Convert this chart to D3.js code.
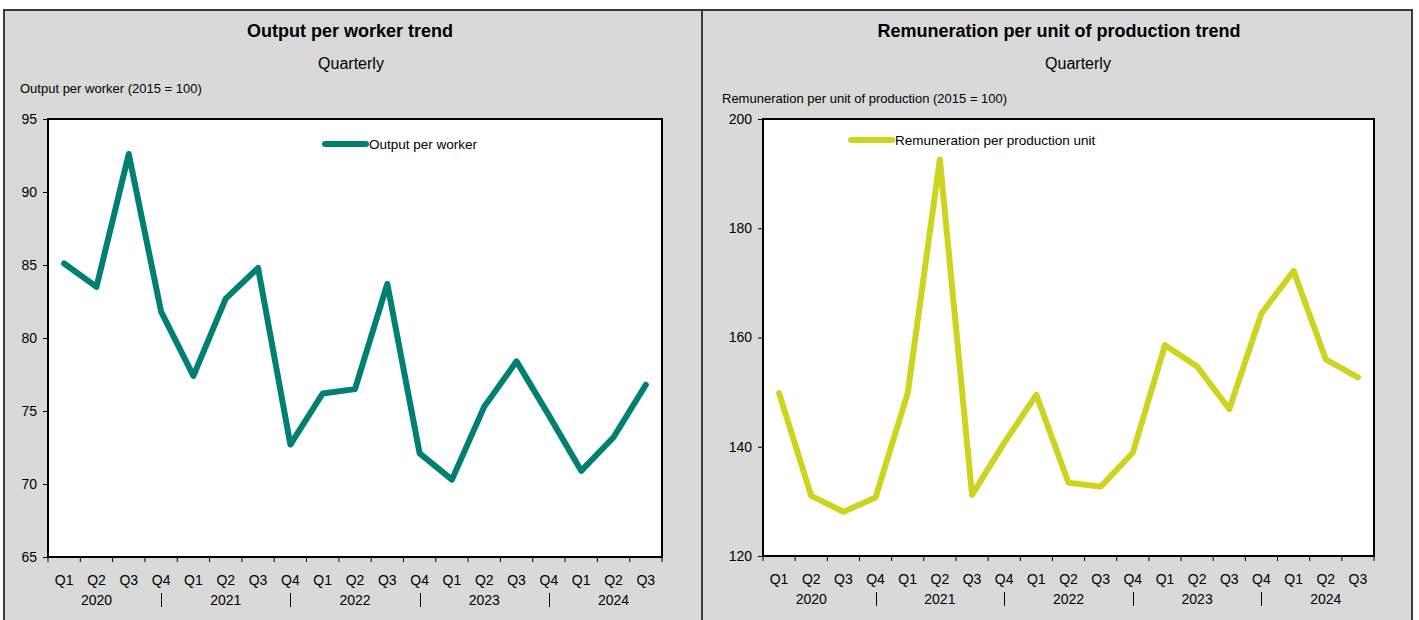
<!DOCTYPE html>
<html>
<head>
<meta charset="utf-8">
<script src="https://cdn.jsdelivr.net/npm/d3@7"></script>
<style>
  html, body { margin: 0; padding: 0; background: #ffffff; }
  svg { display: block; }
  text { font-family: "Liberation Sans Narrow", "Arial Narrow", "Liberation Sans", Arial, sans-serif; fill: #000; }
</style>
</head>
<body>
<svg id="chart" width="1419" height="620"></svg>
<script>
// ---- Data ----
const quarters = ["Q1","Q2","Q3","Q4","Q1","Q2","Q3","Q4","Q1","Q2","Q3","Q4","Q1","Q2","Q3","Q4","Q1","Q2","Q3"];
const years = ["2020","2021","2022","2023","2024"];
const outputPerWorker = [85.1, 83.5, 92.6, 81.8, 77.4, 82.7, 84.8, 72.7, 76.2, 76.5, 83.7, 72.1, 70.3, 75.3, 78.4, 74.7, 70.9, 73.2, 76.8];
const remunerationPerUnit = [149.8, 131.0, 128.1, 130.7, 149.8, 192.6, 131.2, 140.7, 149.5, 133.4, 132.7, 138.9, 158.6, 154.7, 146.9, 164.4, 172.2, 156.0, 152.7];
const leftTicks = [65, 70, 75, 80, 85, 90, 95];
const rightTicks = [120, 140, 160, 180, 200];

const svg = d3.select("#chart");

// panel backgrounds
svg.append("rect").attr("x", 4).attr("y", 10).attr("width", 698).attr("height", 620)
  .attr("fill", "#d9d9d9").attr("stroke", "#3a3a3a").attr("stroke-width", 2);
svg.append("rect").attr("x", 702).attr("y", 10).attr("width", 710).attr("height", 620)
  .attr("fill", "#d9d9d9").attr("stroke", "#3a3a3a").attr("stroke-width", 2);

function panel(cfg) {
  const g = svg.append("g");
  const x = d3.scaleBand().domain(d3.range(quarters.length)).range([cfg.x0, cfg.x1]);
  const y = d3.scaleLinear().domain(cfg.domain).range([cfg.y1, cfg.y0]);

  // titles
  g.append("text").attr("x", cfg.titleX).attr("y", 37).attr("text-anchor", "middle")
    .attr("font-size", "18px").attr("font-weight", "bold").text(cfg.title);
  g.append("text").attr("x", cfg.subX).attr("y", 69).attr("text-anchor", "middle")
    .attr("font-size", "16px").text("Quarterly");
  g.append("text").attr("x", cfg.ylabX).attr("y", cfg.ylabY).attr("font-size", "13px").text(cfg.ylabel);

  // plot area
  g.append("rect").attr("x", cfg.x0).attr("y", cfg.y0).attr("width", cfg.x1 - cfg.x0).attr("height", cfg.y1 - cfg.y0)
    .attr("fill", "#ffffff");

  // y axis
  const yAxis = d3.axisLeft(y).tickValues(cfg.ticks).tickSize(5).tickPadding(6).tickFormat(d3.format("d"));
  const ya = g.append("g").attr("transform", `translate(${cfg.x0},0)`).call(yAxis);
  ya.select(".domain").remove();
  ya.selectAll("line").attr("stroke", "#000").attr("stroke-width", 1);
  ya.selectAll("text").attr("font-size", "14px").attr("fill", "#000")
    .style("font-family", '"Liberation Sans Narrow", "Arial Narrow", "Liberation Sans", Arial, sans-serif');

  // x axis boundary ticks
  const bounds = d3.range(quarters.length + 1);
  const xPos = i => cfg.x0 + i * x.step();
  g.selectAll(".xt").data(bounds).enter().append("line")
    .attr("x1", d => xPos(d)).attr("x2", d => xPos(d))
    .attr("y1", cfg.y1).attr("y2", cfg.y1 + 5).attr("stroke", "#000");
  g.selectAll(".ql").data(quarters).enter().append("text")
    .attr("x", (d, i) => x(i) + x.bandwidth() / 2).attr("y", cfg.y1 + 28)
    .attr("text-anchor", "middle").attr("font-size", "14px").text(d => d);
  g.selectAll(".yl").data(years).enter().append("text")
    .attr("x", (d, i) => x(i * 4 + 1) + x.bandwidth() / 2).attr("y", cfg.y1 + 48)
    .attr("text-anchor", "middle").attr("font-size", "14px").text(d => d);
  g.selectAll(".sep").data(years.slice(0, 4)).enter().append("line")
    .attr("x1", (d, i) => Math.round(x(i * 4 + 3) + x.bandwidth() / 2) + 0.5)
    .attr("x2", (d, i) => Math.round(x(i * 4 + 3) + x.bandwidth() / 2) + 0.5)
    .attr("y1", cfg.y1 + 36).attr("y2", cfg.y1 + 50).attr("stroke", "#000").attr("stroke-width", 1);

  // border
  g.append("rect").attr("x", cfg.x0).attr("y", cfg.y0).attr("width", cfg.x1 - cfg.x0).attr("height", cfg.y1 - cfg.y0)
    .attr("fill", "none").attr("stroke", "#000").attr("stroke-width", 2);

  // line
  const line = d3.line().x((d, i) => x(i) + x.bandwidth() / 2).y(d => y(d));
  g.append("path").datum(cfg.values).attr("d", line).attr("fill", "none")
    .attr("stroke", cfg.color).attr("stroke-width", 6).attr("stroke-linejoin", "round").attr("stroke-linecap", "round");

  // legend
  g.append("line").attr("x1", cfg.legX).attr("x2", cfg.legX + 41).attr("y1", cfg.legY).attr("y2", cfg.legY)
    .attr("stroke", cfg.color).attr("stroke-width", 6).attr("stroke-linecap", "round");
  g.append("text").attr("x", cfg.legX + 44).attr("y", cfg.legY + 5).attr("font-size", "13.5px").text(cfg.legend);
}

panel({
  x0: 48, x1: 662, y0: 119, y1: 557, domain: [65, 95], ticks: leftTicks,
  values: outputPerWorker, color: "#007f73",
  title: "Output per worker trend", titleX: 350, subX: 351,
  ylabel: "Output per worker (2015 = 100)", ylabX: 20, ylabY: 93,
  legX: 325, legY: 144, legend: "Output per worker"
});
panel({
  x0: 763, x1: 1374, y0: 119, y1: 556, domain: [120, 200], ticks: rightTicks,
  values: remunerationPerUnit, color: "#cdd41f",
  title: "Remuneration per unit of production trend", titleX: 1059, subX: 1078,
  ylabel: "Remuneration per unit of production (2015 = 100)", ylabX: 722, ylabY: 103,
  legX: 851, legY: 140, legend: "Remuneration per production unit"
});
</script>
</body>
</html>
